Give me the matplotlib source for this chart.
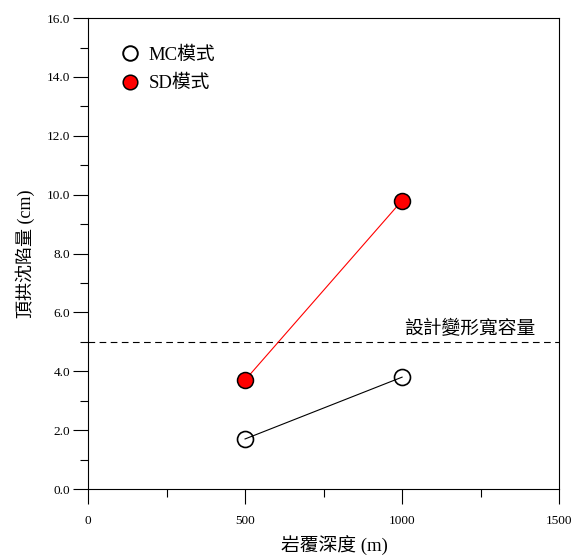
import matplotlib
matplotlib.use('Agg')
import matplotlib.pyplot as plt
from matplotlib.lines import Line2D
from matplotlib.ticker import MultipleLocator, FormatStrFormatter

plt.rcParams['font.family'] = ['Liberation Serif', 'Noto Sans CJK TC']

# data
depth = [500, 1000]
mc_values = [1.7, 3.8]
sd_values = [3.7, 9.8]
design_limit = 5.0
series_labels = ['MC模式', 'SD模式']

fig = plt.figure(figsize=(5.83, 5.56), dpi=100)
ax = fig.add_axes([0.151, 0.1205, 0.808, 0.847])

ax.axhline(design_limit, color='black', linestyle=(0, (6, 4)), linewidth=0.8, zorder=1)
ax.text(1423, design_limit + 0.12, '設計變形寬容量', ha='right', va='bottom', fontsize=13.5)

ax.plot(depth, mc_values, color='black', linewidth=0.8, marker='o', markersize=11.5,
        markerfacecolor='none', markeredgecolor='black', markeredgewidth=1.2, zorder=3)
ax.plot(depth, sd_values, color='red', linewidth=0.8, marker='o', markersize=11.5,
        markerfacecolor='red', markeredgecolor='black', markeredgewidth=1.1, zorder=3)

handles = [
    Line2D([], [], ls='none', marker='o', markersize=10.5, markerfacecolor='white',
           markeredgecolor='black', markeredgewidth=1.4, label=series_labels[0]),
    Line2D([], [], ls='none', marker='o', markersize=10.5, markerfacecolor='red',
           markeredgecolor='black', markeredgewidth=1.1, label=series_labels[1]),
]
ax.legend(handles=handles, loc='upper left', bbox_to_anchor=(0.069, 0.940), frameon=False,
          fontsize=13.5, handlelength=1.0, handletextpad=0.5, labelspacing=0.6,
          borderpad=0, borderaxespad=0)

ax.set_xlim(0, 1500)
ax.set_ylim(0, 16)
ax.xaxis.set_major_locator(MultipleLocator(500))
ax.xaxis.set_minor_locator(MultipleLocator(250))
ax.yaxis.set_major_locator(MultipleLocator(2))
ax.yaxis.set_minor_locator(MultipleLocator(1))
ax.yaxis.set_major_formatter(FormatStrFormatter('%.1f'))

ax.tick_params(which='major', direction='out', length=11, width=0.8, labelsize=9.5)
ax.tick_params(which='minor', direction='out', length=5.5, width=0.8)
ax.tick_params(axis='x', which='major', pad=8)
ax.tick_params(axis='y', which='major', pad=2)
for s in ax.spines.values():
    s.set_linewidth(0.8)

ax.set_xlabel('岩覆深度 (m)', fontsize=13.5, labelpad=6)
ax.xaxis.label.set_x(0.524)
ax.set_ylabel('頂拱沈陷量 (cm)', fontsize=13, labelpad=8)

fig.savefig('out.png', dpi=100)
